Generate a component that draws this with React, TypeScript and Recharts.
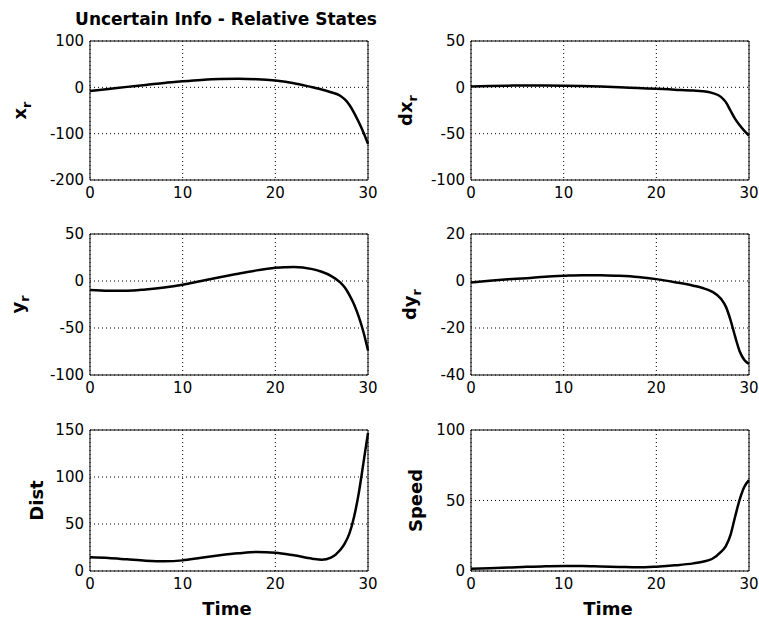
import React from "react";
import {
  LineChart,
  Line,
  XAxis,
  YAxis,
  CartesianGrid,
  ReferenceArea,
  Label,
} from "recharts";

// time samples (denser near the end where the curves bend hard)
const time = [0, 2, 4, 6, 8, 10, 12, 14, 16, 18, 20, 22, 24, 25, 26, 27, 27.5, 28, 28.5, 29, 29.5, 30];

const xr = [-8, -3.5, 1, 5, 9.5, 13, 16, 18, 18.5, 17.5, 14.5, 9, 0, -4.5, -10.5, -18, -26, -38, -55, -75, -97, -122];
const dxr = [1, 1.5, 1.8, 2, 2, 1.8, 1.4, 0.8, 0, -0.8, -1.5, -2.5, -3.5, -4.2, -6, -10.5, -16, -25, -34, -41, -47, -52];
const yr = [-9.5, -10.3, -10.3, -9, -7, -4, 0, 4, 7.7, 11.3, 14, 15, 12.6, 9.8, 5.5, -1.5, -7, -15, -25, -38, -54, -74];
const dyr = [-0.6, 0.1, 0.7, 1.2, 1.8, 2.2, 2.5, 2.5, 2.2, 1.7, 0.8, -0.5, -2, -3, -4.5, -7.7, -10.9, -16.5, -23.6, -30, -33.6, -35.3];
const dist = [14.5, 13.8, 12.4, 11, 10.3, 11.3, 14.2, 16.7, 18.8, 20.2, 19.5, 16.7, 13.1, 12, 14.2, 22.3, 29.4, 40, 57.8, 82.6, 114.5, 147];
const speed = [1.6, 2, 2.4, 3, 3.3, 3.5, 3.5, 3.2, 2.9, 2.6, 3.1, 4, 5.4, 6.6, 8.5, 13.7, 17.7, 25.5, 38.5, 50.8, 59.8, 64.5];

const timeTicks = [0, 10, 20, 30];
const xrTicks = [-200, -100, 0, 100];
const dxrTicks = [-100, -50, 0, 50];
const yrTicks = [-100, -50, 0, 50];
const dyrTicks = [-40, -20, 0, 20];
const distTicks = [0, 50, 100, 150];
const speedTicks = [0, 50, 100];

const title = "Uncertain Info - Relative States";

const rows = time.map((t, i) => ({
  t,
  xr: xr[i],
  dxr: dxr[i],
  yr: yr[i],
  dyr: dyr[i],
  dist: dist[i],
  speed: speed[i],
}));

const TICK_FONT = "'DejaVu Sans', sans-serif";
const LABEL_FONT = "'DejaVu Sans', sans-serif";

// plot box positions (page coords) and label offsets
const panels = [
  { key: "xr", name: "x", sub: "r", ticks: xrTicks, left: 89.5, top: 41, h: 139, lx: -64.5, title: true, time: false },
  { key: "dxr", name: "dx", sub: "r", ticks: dxrTicks, left: 470.5, top: 41, h: 139, lx: -59.5, title: false, time: false },
  { key: "yr", name: "y", sub: "r", ticks: yrTicks, left: 89.5, top: 234, h: 141, lx: -66, title: false, time: false },
  { key: "dyr", name: "dy", sub: "r", ticks: dyrTicks, left: 470.5, top: 234, h: 141, lx: -55.5, title: false, time: false },
  { key: "dist", name: "Dist", sub: "", ticks: distTicks, left: 89.5, top: 430, h: 141, lx: -47, title: false, time: true },
  { key: "speed", name: "Speed", sub: "", ticks: speedTicks, left: 470.5, top: 430, h: 141, lx: -49, title: false, time: true },
];

const BOX_W = 278;
const AXIS_W = 90;
const TOP_PAD = 41;
const BOTTOM_PAD = 52;

function Panel({ p }: { p: (typeof panels)[number] }) {
  const lo = p.ticks[0];
  const hi = p.ticks[p.ticks.length - 1];
  const width = AXIS_W + BOX_W + 12;
  const height = TOP_PAD + p.h + BOTTOM_PAD;

  return (
    <div style={{ position: "absolute", left: p.left - AXIS_W, top: p.top - TOP_PAD }}>
      <LineChart
        width={width}
        height={height}
        data={rows}
        margin={{ top: TOP_PAD, right: 12, bottom: 0, left: 0 }}
      >
        <CartesianGrid stroke="#000" strokeDasharray="1 3" strokeWidth={1} />
        <XAxis
          type="number"
          dataKey="t"
          domain={[0, 30]}
          ticks={timeTicks}
          height={BOTTOM_PAD}
          axisLine={false}
          tickLine={false}
          tickSize={0}
          tickMargin={7}
          tick={{ fill: "#000", fontSize: 15, fontFamily: TICK_FONT }}
        />
        <YAxis
          type="number"
          domain={[lo, hi]}
          ticks={p.ticks}
          width={AXIS_W}
          axisLine={false}
          tickLine={false}
          tickSize={0}
          tickMargin={6}
          tick={{ fill: "#000", fontSize: 15, fontFamily: TICK_FONT }}
        />
        <ReferenceArea x1={0} x2={30} y1={lo} y2={hi} fill="none" fillOpacity={0} stroke="#000" strokeWidth={1}>
          <Label
            content={(props: any) => {
              const { x, y, height: bh } = props.viewBox;
              const cx = x + p.lx;
              const cy = y + bh / 2;
              return (
                <text
                  x={cx}
                  y={cy}
                  transform={`rotate(-90, ${cx}, ${cy})`}
                  textAnchor="middle"
                  fontFamily={LABEL_FONT}
                  fontWeight="bold"
                  fontSize={18}
                  fill="#000"
                >
                  {p.name}
                  {p.sub && (
                    <tspan dy={5} fontSize={13}>
                      {p.sub}
                    </tspan>
                  )}
                </text>
              );
            }}
          />
          {p.title && (
            <Label
              content={(props: any) => {
                const { x, y, width: bw } = props.viewBox;
                return (
                  <text
                    x={x + bw / 2 - 3}
                    y={y - 16}
                    textAnchor="middle"
                    fontFamily={LABEL_FONT}
                    fontWeight="bold"
                    fontSize={17}
                    fill="#000"
                  >
                    {title}
                  </text>
                );
              }}
            />
          )}
          {p.time && (
            <Label
              content={(props: any) => {
                const { x, y, width: bw, height: bh } = props.viewBox;
                return (
                  <text
                    x={x + bw / 2 - 2}
                    y={y + bh + 44}
                    textAnchor="middle"
                    fontFamily={LABEL_FONT}
                    fontWeight="bold"
                    fontSize={18}
                    fill="#000"
                  >
                    Time
                  </text>
                );
              }}
            />
          )}
        </ReferenceArea>
        <Line
          type="monotone"
          dataKey={p.key}
          stroke="#000"
          strokeWidth={2.5}
          dot={false}
          isAnimationActive={false}
        />
      </LineChart>
    </div>
  );
}

export default function App() {
  return (
    <div
      style={{
        position: "absolute",
        left: 0,
        top: 0,
        width: 759,
        height: 622,
        background: "#fff",
        overflow: "hidden",
      }}
    >
      {panels.map((p) => (
        <Panel key={p.key} p={p} />
      ))}
    </div>
  );
}
